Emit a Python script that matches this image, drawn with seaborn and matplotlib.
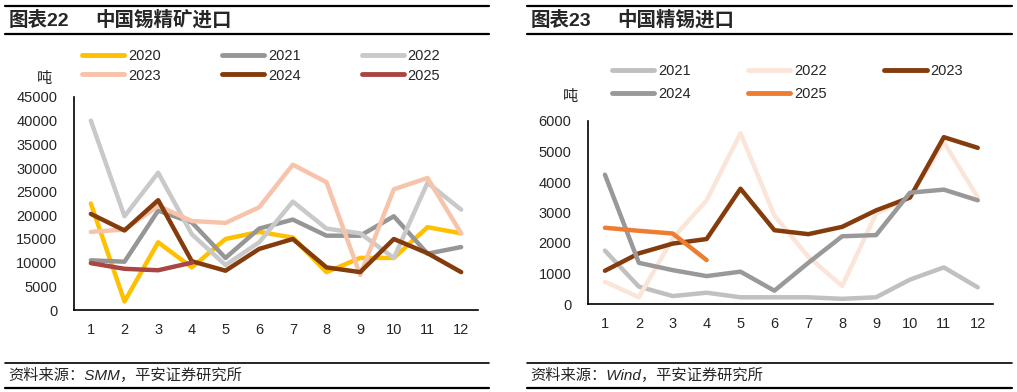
import numpy as np
import pandas as pd
import seaborn as sns
import matplotlib.pyplot as plt
from matplotlib.lines import Line2D

sns.set_style("white")
plt.rcParams['font.family'] = ['Liberation Sans', 'Noto Sans CJK SC', 'DejaVu Sans']

months = list(range(1, 13))

# 中国锡精矿进口 (吨)
ore = {
    "2020": [22500, 1800, 14300, 9000, 15000, 16500, 15300, 8000, 11000, 11000, 17500, 16200],
    "2021": [10500, 10200, 21000, 18500, 11000, 17200, 19100, 15700, 15700, 19800, 11900, 13300],
    "2022": [40000, 19800, 29000, 16000, 9500, 14300, 22900, 17200, 16200, 11000, 26900, 21200],
    "2023": [16500, 17000, 22000, 18800, 18400, 21700, 30700, 27000, 7400, 25500, 27900, 16200],
    "2024": [20300, 16800, 23200, 10300, 8300, 12900, 15000, 9000, 8000, 15000, 12000, 8000],
    "2025": [9900, 8700, 8400, 10000],
}
ore_colors = {"2020": "#FFC000", "2021": "#969696", "2022": "#C9C9C9",
              "2023": "#F7C4AB", "2024": "#843C0C", "2025": "#A94543"}
ore_order = ["2020", "2023", "2021", "2024", "2022", "2025"]

# 中国精锡进口 (吨)
refined = {
    "2021": [1750, 570, 260, 370, 220, 220, 220, 170, 220, 800, 1200, 545],
    "2022": [730, 220, 2150, 3400, 5600, 2900, 1550, 590, 2960, 3500, 5300, 3500],
    "2023": [1090, 1660, 1980, 2130, 3780, 2420, 2290, 2530, 3070, 3490, 5470, 5120],
    "2024": [4240, 1350, 1110, 915, 1060, 436, 1350, 2220, 2260, 3650, 3750, 3400],
    "2025": [2500, 2400, 2310, 1440],
}
refined_colors = {"2021": "#C0C0C0", "2022": "#FBE5D9", "2023": "#843C0C",
                  "2024": "#999999", "2025": "#ED7D31"}
refined_order = ["2021", "2024", "2022", "2025", "2023"]


def to_long(d):
    rows = []
    for yr, vals in d.items():
        for m, v in zip(months, vals):
            rows.append({"月": m, "吨": v, "年": yr})
    return pd.DataFrame(rows)


W, H = 1017, 392
fig = plt.figure(figsize=(W / 100, H / 100), dpi=100)


def box(l, t, r, b):
    return [l / W, 1 - b / H, (r - l) / W, (b - t) / H]


def hline(x0, x1, y, lw=1.6):
    fig.add_artist(Line2D([x0 / W, x1 / W], [1 - y / H, 1 - y / H],
                          color="black", lw=lw, transform=fig.transFigure))


def panel(rect, data, colors, order, ylim, yticks, xlim, leg_anchor, colsp, rowsp,
          unit_xy, title_no, title, title_x, span, source):
    ax = fig.add_axes(rect)
    df = to_long(data)
    sns.lineplot(data=df, x="月", y="吨", hue="年", palette=colors,
                 hue_order=list(data.keys()), linewidth=3.2, ax=ax, legend=False)
    ax.set_xlim(*xlim)
    ax.set_ylim(*ylim)
    ax.set_xticks(months)
    ax.set_yticks(yticks)
    ax.set_xlabel("")
    ax.set_ylabel("")
    for s in ["top", "right"]:
        ax.spines[s].set_visible(False)
    for s in ["left", "bottom"]:
        ax.spines[s].set_color("black")
        ax.spines[s].set_linewidth(1.2)
    ax.tick_params(axis="y", length=0, pad=12, labelsize=10.5)
    ax.tick_params(axis="x", length=0, pad=9, labelsize=10.5)
    ax.grid(False)

    handles = [Line2D([], [], color=colors[k], lw=3.5, solid_capstyle="round")
               for k in order]
    fig.legend(handles, order, ncol=3, loc="upper left",
               bbox_to_anchor=(leg_anchor[0] / W, 1 - leg_anchor[1] / H),
               frameon=False, fontsize=10.5, handlelength=2.9,
               handletextpad=0.25, columnspacing=colsp, labelspacing=rowsp,
               borderaxespad=0, borderpad=0)
    fig.text(unit_xy[0] / W, 1 - unit_xy[1] / H, "吨", fontsize=11,
             ha="center", va="center")

    fig.text(title_x[0] / W, 1 - 20 / H, title_no, fontsize=14, fontweight="bold",
             ha="left", va="center")
    fig.text(title_x[1] / W, 1 - 20 / H, title, fontsize=14, fontweight="bold",
             ha="left", va="center")
    hline(span[0], span[1], 6)
    hline(span[0], span[1], 34)
    hline(span[0], span[1], 363, lw=1.2)
    hline(span[0], span[1], 388, lw=1.6)
    fig.text((span[0] + 3) / W, 1 - 375 / H, source, fontsize=11,
             style="italic", ha="left", va="center")
    return ax


panel(box(74, 97, 478, 310), ore, ore_colors, ore_order,
      (0, 45000), range(0, 45001, 5000), (0.5, 12.5), (82, 49), 4.2, 0.38, (45, 79),
      "图表22", "中国锡精矿进口", (9, 95), (5, 489), "资料来源：SMM，平安证券研究所")

panel(box(588, 121, 993, 304), refined, refined_colors, refined_order,
      (0, 6000), range(0, 6001, 1000), (0.5, 12.45), (612, 64), 3.95, 0.65, (570, 97),
      "图表23", "中国精锡进口", (531, 617), (527, 1012), "资料来源：Wind，平安证券研究所")

fig.savefig("out.png", dpi=100)
